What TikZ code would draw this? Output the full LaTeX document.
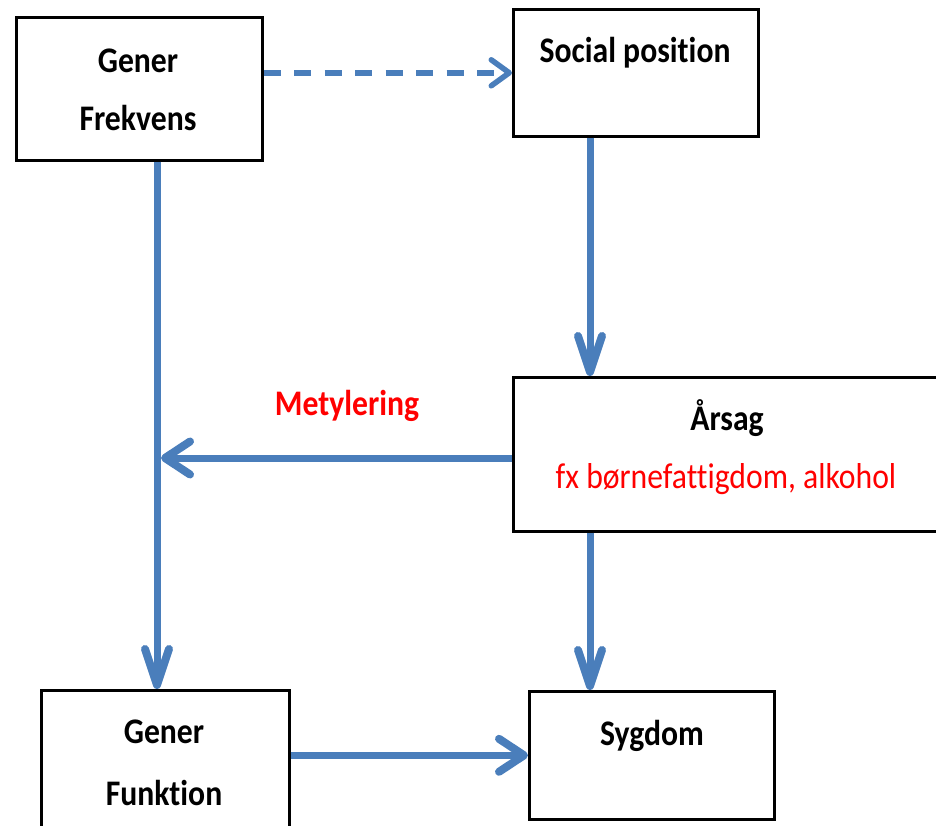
\documentclass[tikz,border=0pt]{standalone}
\usepackage{fontspec}
\setmainfont{Carlito}[FakeStretch=0.88, Ligatures={NoCommon}]
\usetikzlibrary{arrows.meta}
\definecolor{flow}{HTML}{4A7EBB}
\definecolor{note}{HTML}{FF0000}
\tikzset{
  box/.style={draw=black, line width=2.6pt, fill=white, anchor=north west, inner sep=0pt},
  title/.style={font=\fontsize{36}{44}\selectfont\bfseries, anchor=base, inner sep=0pt},
  remark/.style={font=\fontsize{36}{44}\selectfont, text=note, anchor=base, inner sep=0pt},
  flowline/.style={draw=flow, line width=7pt},
  downarrow/.style={flowline,
    -{Straight Barb[length=36pt, width=24pt, line width=8pt, round]}},
  sidearrow/.style={flowline,
    -{Straight Barb[length=25pt, width=33pt, line width=8pt, round]}},
  weakarrow/.style={draw=flow, line width=5.5pt, dash pattern=on 17pt off 13.5pt,
    -{Straight Barb[length=18pt, width=26pt, line width=5.5pt, round]}},
}
\begin{document}
\begin{tikzpicture}[x=1pt, y=-1pt]
  \useasboundingbox (0,0) rectangle (936,825);
  \clip (0,0) rectangle (936,825);

  % boxes
  \node[box, minimum width=246pt, minimum height=143pt] (gf) at (15,16) {};
  \node[box, minimum width=245pt, minimum height=127pt] (sp) at (512,8) {};
  \node[box, minimum width=440pt, minimum height=154pt] (ar) at (512,376) {};
  \node[box, minimum width=248pt, minimum height=160pt] (gfn) at (40,689) {};
  \node[box, minimum width=245pt, minimum height=128pt] (sy) at (528,690) {};

  % box texts
  \node[title] (gft1) at (138,72) {Gener};
  \node[title] (gft2) at (138,130) {Frekvens};
  \node[title] (spt) at (635,62) {Social position};
  \node[title] (art) at (727,430) {Årsag};
  \node[remark] (arr) at (726,488) {fx børnefattigdom, alkohol};
  \node[title] (gfnt1) at (164,743) {Gener};
  \node[title] (gfnt2) at (164,805) {Funktion};
  \node[title] (syt) at (652,745) {Sygdom};
  \node[title, text=note] (met) at (347,415) {Metylering};

  % connector guides
  \coordinate (v) at (157,0);
  \coordinate (w) at (590,0);
  \coordinate (m) at (0,458);

  % connectors
  \draw[weakarrow] (gf.east |- sp.west) -- (sp.west);
  \draw[downarrow] (gf.south -| v) -- (gfn.north -| v);
  \draw[downarrow] (sp.south -| w) -- (ar.north -| w);
  \draw[sidearrow] (ar.west |- m) -- ([xshift=4pt]v |- m);
  \draw[downarrow] (ar.south -| w) -- (sy.north -| w);
  \draw[sidearrow] (gfn.east |- sy.west) -- (sy.west);
\end{tikzpicture}
\end{document}
